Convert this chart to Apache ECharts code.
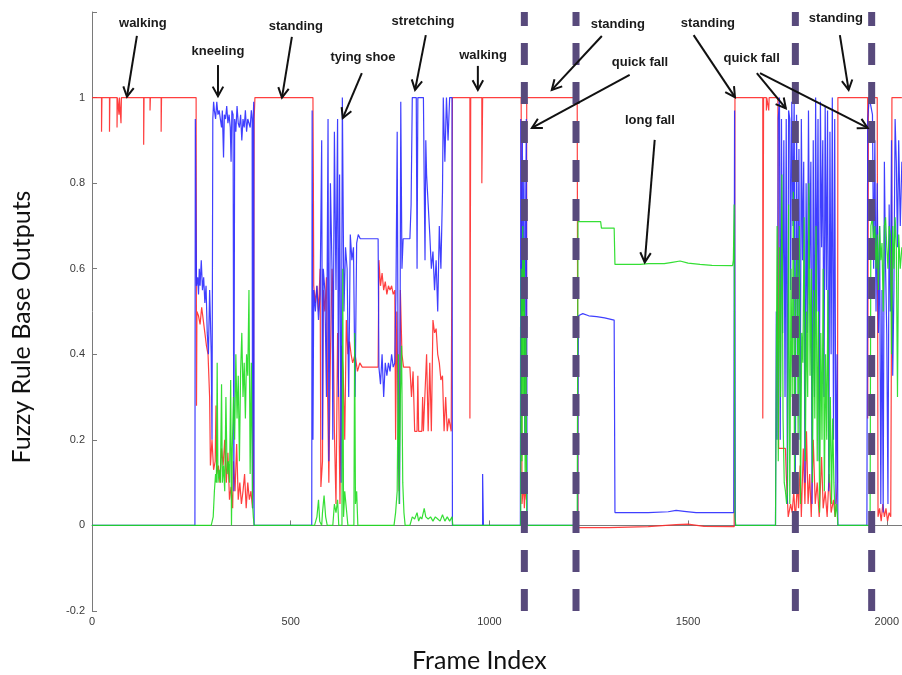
<!DOCTYPE html>
<html><head><meta charset="utf-8">
<script src="https://cdn.jsdelivr.net/npm/echarts@6/dist/echarts.min.js"></script>
<style>html,body{margin:0;padding:0;background:#fff}#c{width:902px;height:675px}</style>
</head><body><div id="c"></div>
<script>
// ---- data (frame, value) ----
const redData = [[0,1],[24,1],[24,0.92],[25,0.92],[25,1],[44,1],[44,0.92],[45,0.92],[45,1],[63,1],[63,0.93],[64,1],[68,1],[68,0.96],[69,1],[73,1],[73,0.94],[74,1],[130,1],[130,0.89],[131,0.89],[131,1],[146,1],[146,0.97],[147,1],[174,1],[174,0.92],[175,0.92],[175,1],
[262,1],[263,0.28],[264,0.5],[268,0.49],[272,0.47],[276,0.51],[280,0.48],[284,0.45],[288,0.42],[292,0.4],[296,0.3],[298,0.14],[302,0.2],[306,0.13],[310,0.15],[312,0.28],[314,0.12],[318,0.14],[322,0.1],[326,0.18],[330,0.14],[334,0.2],[338,0.1],[342,0.17],[346,0.06],[350,0.09],[354,0.04],[356,0.15],[360,0.08],[364,0.19],[368,0.06],[372,0.1],[376,0.05],[380,0.08],[384,0.12],[388,0.04],[392,0.1],[396,0.06],[400,0.08],[404,0.04],[406,0.09],[408,0.95],[410,1],
[556,1],[557,0.82],[558,0.56],[562,0.52],[566,0.56],[570,0.5],[574,0.6],[576,0.09],[580,0.15],[582,0.55],[586,0.5],[590,0.58],[593,0.3],[596,0.1],[600,0.4],[604,0.6],[606,0.55],[610,0.22],[614,0.05],[618,0.45],[621,0.3],[624,0.05],[628,0.42],[632,0.36],[636,0.2],[640,0.48],[644,0.4],[648,0.43],[652,0.4],[656,0.38],[662,0.4],[668,0.36],[674,0.38],[680,0.37],[720,0.37],[722,0.62],[726,0.56],[730,0.59],[734,0.55],[738,0.57],[742,0.54],[746,0.56],[750,0.55],[754,0.56],[758,0.54],[762,0.55],[764,0.2],[767,0.5],[770,0.3],[773,0.08],[776,0.55],[780,0.4],[784,0.37],[800,0.37],[804,0.3],[808,0.36],[812,0.22],[818,0.22],[820,0.35],[822,0.22],[830,0.22],[832,0.3],[834,0.22],[838,0.22],[842,0.4],[846,0.22],[850,0.38],[854,0.22],[858,0.48],[862,0.45],[866,0.46],[870,0.4],[874,0.38],[878,0.34],[882,0.35],[886,0.22],[890,0.3],[894,0.22],[898,0.25],[904,0.22],[906,0.22],[907,1],
[951,1],[951,0.25],[953,0.25],[953,1],[981,1],[981,0.8],[983,0.8],[983,1],
[1080,1],[1082,0.05],[1086,0.1],[1088,0.04],[1091,0.1],[1093,0.06],[1094,1],
[1221,1],[1223,-0.005],[1300,-0.005],[1400,-0.003],[1470,0.002],[1500,0.003],[1540,-0.002],[1616,-0.003],[1618,1],
[1688,1],[1688,0.25],[1690,0.25],[1690,1],[1697,1],[1697,0.97],[1698,1],[1703,1],[1703,0.97],[1704,1],
[1726,1],[1728,0.18],[1745,0.18],[1747,0.12],[1752,0.02],[1758,0.05],[1762,0.03],[1766,0.08],[1770,0.01],[1775,0.1],[1778,0.04],[1782,0.14],[1785,0.02],[1790,0.18],[1794,0.05],[1798,0.22],[1802,0.05],[1806,0.12],[1810,0.02],[1815,0.2],[1820,0.05],[1825,0.1],[1830,0.02],[1836,0.16],[1840,0.04],[1845,0.08],[1850,0.02],[1855,0.12],[1860,0.03],[1866,0.06],[1870,0.02],[1876,0.1],[1877,1],
[1952,1],[1952,0.25],[1954,0.25],[1954,1],[1976,1],[1978,0.02],[1982,0.04],[1986,0.01],[1990,0.05],[1994,0.02],[1998,0.04],[2002,0.01],[2006,0.03],[2010,0.02],[2012,0.5],[2013,1],[2038,1]];

const blueData = [[0,0],[259,0],[260,0.95],[262,0.95],[263,0.56],[266,0.58],[268,0.54],[270,0.6],[272,0.56],[275,0.62],[278,0.55],[281,0.58],[284,0.52],[287,0.56],[290,0.45],[293,0.4],[296,0.55],[298,0.48],[300,0.4],[302,0.2],[304,0.95],[306,0.99],[308,0.97],[311,0.95],[314,0.99],[317,0.96],[320,0.97],[323,0.95],[326,0.93],[328,0.97],[331,0.86],[333,0.96],[336,0.95],[339,0.98],[342,0.94],[345,0.96],[348,0.93],[350,0.85],[352,0.97],[355,0.96],[357,0.08],[359,0.95],[362,0.92],[365,0.98],[368,0.94],[371,0.93],[374,0.96],[377,0.9],[380,0.95],[383,0.93],[386,0.97],[389,0.92],[392,0.95],[395,0.94],[398,0.93],[401,0.97],[403,0.95],[404,0.04],[406,0.96],[407,0.99],[408,0],
[553,0],[554,0.97],[556,0.2],[558,0.55],[562,0.5],[566,0.56],[570,0.48],[574,0.54],[578,0.9],[580,0.2],[582,0.6],[586,0.55],[590,0.3],[594,0.95],[596,0.15],[600,0.8],[604,0.6],[606,0.2],[610,0.92],[614,0.55],[618,0.95],[620,0.3],[623,0.82],[627,0.1],[630,1],[634,0.5],[638,0.65],[642,0.6],[646,0.3],[650,0.68],[654,0.62],[658,0.65],[662,0.3],[666,0.66],[670,0.68],[675,0.67],[720,0.67],[722,0.37],[726,0.33],[730,0.4],[734,0.3],[738,0.38],[742,0.35],[746,0.38],[750,0.36],[754,0.4],[758,0.37],[762,0.38],[765,0.55],[768,0.92],[771,0.2],[774,0.05],[777,0.99],[780,0.6],[783,0.67],[800,0.67],[803,0.75],[806,1],[816,1],[818,0.6],[820,1],[834,1],[836,0.8],[838,0.62],[840,0.9],[842,0.82],[846,0.75],[850,0.68],[854,0.6],[858,0.64],[862,0.55],[866,0.62],[870,0.5],[874,0.7],[878,0.6],[882,0.78],[884,1],[888,0.85],[892,1],[896,0.9],[900,1],[906,1],[907,0],
[983,0],[983,0.12],[985,0.12],[985,0],
[1078,0],[1079,0.95],[1081,0.3],[1083,0.9],[1085,0.5],[1087,0.85],[1089,0.2],[1091,0.7],[1093,0.95],[1095,0],
[1222,0],[1224,0.49],[1235,0.495],[1250,0.49],[1270,0.488],[1290,0.485],[1314,0.48],[1316,0.03],[1400,0.03],[1450,0.032],[1470,0.035],[1490,0.033],[1520,0.03],[1615,0.03],[1617,0.97],[1619,0],
[1720,0],[1722,0.5],[1724,0.2],[1727,0.95],[1730,1],[1732,0.2],[1735,0.95],[1738,0.45],[1741,0.9],[1744,0.3],[1747,0.95],[1750,0.05],[1753,0.97],[1756,0.95],[1758,0.55],[1761,0.99],[1764,0.7],[1767,1],[1770,0.1],[1773,0.96],[1776,0.4],[1779,0.88],[1782,0.2],[1785,0.95],[1788,0.62],[1791,0.85],[1794,0.1],[1797,0.8],[1800,0.45],[1803,0.97],[1806,0.6],[1809,0.85],[1812,0.05],[1815,0.9],[1818,0.3],[1821,1],[1824,0.5],[1827,0.95],[1830,0.15],[1833,0.99],[1836,0.65],[1839,0.9],[1842,0.3],[1845,0.98],[1848,0.55],[1851,0.97],[1854,0.08],[1857,0.92],[1860,0.4],[1863,1],[1866,0.2],[1869,0.95],[1872,0.05],[1875,0.4],[1877,0],
[1950,0],[1952,0.95],[1956,1],[1960,0.98],[1964,0.96],[1967,0.6],[1970,0.9],[1973,0.5],[1976,0.8],[1979,0.45],[1982,0.7],[1985,0.05],[1988,0.55],[1991,0.03],[1994,0.85],[1997,0.6],[2000,0.45],[2003,0.05],[2006,0.75],[2009,0.5],[2012,0.9],[2015,0.35],[2018,0.55],[2021,0.95],[2024,0.85],[2027,0.65],[2030,0.9],[2034,0.7],[2038,0.85]];

const greenData = [[0,0],[300,0],[305,0.02],[308,0.08],[311,0.12],[313,0.1],[315,0.38],[317,0.1],[320,0.13],[323,0.1],[326,0.33],[328,0.1],[331,0.14],[334,0.08],[337,0.3],[340,0.12],[343,0.15],[346,0.1],[349,0.34],[351,0.0],[353,0.18],[356,0.3],[359,0.2],[362,0.4],[365,0.25],[368,0.35],[371,0.15],[374,0.36],[377,0.45],[380,0.3],[383,0.38],[386,0.25],[389,0.4],[392,0.35],[395,0.55],[398,0.12],[401,0.38],[404,0.05],[406,0.02],[408,0],
[560,0],[566,0.02],[570,0.06],[573,0.01],[578,0.0],[580,0.03],[584,0.07],[588,0.02],[592,0.0],[606,0.0],[610,0.05],[614,0.03],[618,0.06],[621,0.0],[629,0],[631,0.6],[633,0.02],[636,0.08],[640,0.04],[644,0.0],[659,0],[661,0.45],[663,0.05],[666,0.08],[669,0.0],[760,0],[764,0.03],[768,0.08],[771,0.4],[773,0.05],[776,0.3],[779,0.42],[782,0.1],[785,0.03],[788,0.0],[800,0.0],[806,0.02],[812,0.015],[818,0.03],[822,0.01],[826,0.02],[830,0.015],[836,0.04],[840,0.02],[846,0.015],[852,0.02],[858,0.01],[864,0.02],[870,0.015],[876,0.01],[882,0.025],[888,0.01],[894,0.02],[900,0.01],[906,0.02],[908,0],
[1079,0],[1080,0.6],[1082,0.15],[1084,0.7],[1086,0.3],[1088,0.65],[1090,0.1],[1092,0.45],[1094,0.02],[1095,0],
[1221,0],[1223,0.71],[1280,0.71],[1282,0.695],[1314,0.695],[1316,0.61],[1380,0.61],[1400,0.612],[1440,0.612],[1460,0.615],[1480,0.618],[1500,0.613],[1530,0.61],[1560,0.608],[1612,0.607],[1614,0.62],[1616,0.75],[1618,0.02],[1620,0],
[1720,0],[1724,0.7],[1727,0.15],[1730,0.65],[1733,0.3],[1736,0.82],[1739,0.25],[1742,0.1],[1745,0.08],[1748,0.05],[1750,0.08],[1753,0.75],[1756,0.05],[1759,0.6],[1762,0.3],[1765,0.78],[1768,0.1],[1771,0.55],[1774,0.65],[1777,0.2],[1780,0.7],[1783,0.05],[1786,0.45],[1789,0.38],[1792,0.72],[1795,0.15],[1798,0.5],[1801,0.3],[1804,0.8],[1807,0.35],[1810,0.6],[1813,0.1],[1816,0.55],[1819,0.25],[1822,0.7],[1825,0.15],[1828,0.5],[1831,0.03],[1834,0.45],[1837,0.2],[1840,0.6],[1843,0.08],[1846,0.4],[1849,0.2],[1852,0.55],[1855,0.1],[1858,0.3],[1861,0.05],[1864,0.25],[1867,0.1],[1870,0.02],[1874,0.05],[1877,0],
[1958,0],[1960,0.7],[1964,0.72],[1967,0.65],[1970,0.7],[1973,0.6],[1976,0.68],[1979,0.55],[1982,0.7],[1985,0.62],[1988,0.66],[1991,0.5],[1994,0.7],[1997,0.72],[2000,0.65],[2003,0.6],[2006,0.7],[2009,0.68],[2012,0.4],[2015,0.7],[2018,0.6],[2021,0.72],[2024,0.65],[2027,0.3],[2030,0.68],[2034,0.6],[2038,0.65]];

const fallFrames = [1088, 1218, 1770, 1962];

// annotation labels (frame, value of text centre)
const annLabels = ['walking','kneeling','standing','tying shoe','stretching','walking','standing','quick fall','long fall','standing','quick fall','standing'];
const annPos = [[128,1.174],[317,1.109],[513,1.167],[682,1.095],[833,1.179],[984,1.099],[1323,1.172],[1379,1.081],[1404,0.947],[1550,1.174],[1660,1.092],[1872,1.186]];
// arrows: [fromFrame, fromValue, toFrame, toValue]
const annArrows = [[113,1.144,88,1.002],[317,1.076,317,1.003],[503,1.142,478,1.0],[679,1.057,631,0.952],[840,1.146,813,1.018],[971,1.074,971,1.018],[1283,1.144,1157,1.018],[1353,1.053,1107,0.929],[1416,0.901,1391,0.615],[1514,1.146,1618,1.001],[1673,1.057,1746,0.975],[1681,1.057,1952,0.929],[1882,1.146,1904,1.018]];

const xMin = 0, xMax = 2038, yMin = -0.2, yMax = 1.2;

const chart = echarts.init(document.getElementById('c'), null, {renderer:'canvas'});
const lineSeries = (data, color) => ({
  type:'line', data, showSymbol:false, symbol:'none', animation:false, sampling:null,
  lineStyle:{color, width:1.2, opacity:0.9}, z:2
});
chart.setOption({
  animation:false,
  backgroundColor:'#fff',
  grid:{left:92, right:0, top:12, bottom:64, containLabel:false},
  xAxis:{type:'value', min:xMin, max:xMax, interval:500,
    axisLine:{show:true, lineStyle:{color:'#7a7a7a', width:1}},
    axisTick:{show:true, inside:true, length:5, lineStyle:{color:'#7a7a7a'}},
    axisLabel:{color:'#3a3a3a', fontSize:11, fontFamily:'Liberation Sans', margin:5, showMaxLabel:false,
      formatter:v => String(v)},
    splitLine:{show:false}},
  yAxis:{type:'value', min:yMin, max:yMax, interval:0.2,
    axisLine:{show:true, lineStyle:{color:'#7a7a7a', width:1}},
    axisTick:{show:true, inside:true, length:5, lineStyle:{color:'#7a7a7a'}},
    axisLabel:{color:'#3a3a3a', fontSize:11, fontFamily:'Liberation Sans', margin:7,
      formatter:v => v > 1.1 ? '' : String(Math.round(v*10)/10)},
    splitLine:{show:false}},
  graphic:[
    {type:'text', left:412, top:648, style:{text:'Frame Index', font:'25px Lato', fill:'#111'}},
    {type:'text', x:22, y:327, rotation:Math.PI/2, style:{text:'Fuzzy Rule Base Outputs', font:'25px Lato', fill:'#111', align:'center', verticalAlign:'middle'}}
  ],
  series:[
    lineSeries(redData, '#ff2a2a'),
    lineSeries(blueData, '#2a2aff'),
    lineSeries(greenData, '#1fdc1f'),
    {type:'custom', data:fallFrames.map(f=>[f]), encode:{x:0}, z:5, animation:false, clip:false,
      renderItem:(params, api) => {
        const b = api.coord([api.value(0), yMin]);
        const t = api.coord([api.value(0), yMax]);
        return {type:'line', shape:{x1:b[0], y1:b[1], x2:t[0], y2:t[1]},
          style:{stroke:'#584a7c', lineWidth:7, lineDash:[22,17], lineCap:'butt'}};
      }},
    {type:'custom', data:annArrows, encode:{x:[0,2], y:[1,3]}, z:6, animation:false, clip:false,
      renderItem:(params, api) => {
        const p1 = api.coord([api.value(0), api.value(1)]);
        const p2 = api.coord([api.value(2), api.value(3)]);
        const ang = Math.atan2(p2[1]-p1[1], p2[0]-p1[0]);
        const L = 11, A = 0.5;
        const h1 = [p2[0]-L*Math.cos(ang-A), p2[1]-L*Math.sin(ang-A)];
        const h2 = [p2[0]-L*Math.cos(ang+A), p2[1]-L*Math.sin(ang+A)];
        return {type:'group', children:[
          {type:'line', shape:{x1:p1[0], y1:p1[1], x2:p2[0], y2:p2[1]}, style:{stroke:'#111', lineWidth:2}},
          {type:'polyline', shape:{points:[h1,p2,h2]}, style:{stroke:'#111', lineWidth:2, fill:null}}
        ]};
      }},
    {type:'custom', data:annPos, encode:{x:0, y:1}, z:7, animation:false, clip:false,
      renderItem:(params, api) => {
        const p = api.coord([api.value(0), api.value(1)]);
        return {type:'text', x:p[0], y:p[1], style:{text:annLabels[params.dataIndex],
          font:'bold 13px "Liberation Sans"', fill:'#1a1a1a', align:'center', verticalAlign:'middle'}};
      }}
  ]
});
</script></body></html>
